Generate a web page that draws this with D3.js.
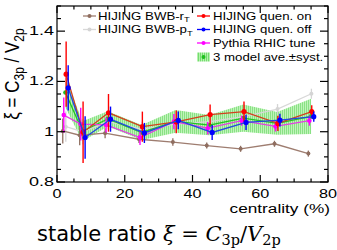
<!DOCTYPE html>
<html><head><meta charset="utf-8">
<script src="https://cdn.jsdelivr.net/npm/d3@7"></script>
<style>body{margin:0;background:#fff}svg{display:block}</style>
</head><body>
<svg id="c" width="337" height="250"></svg>
<script>
const cent = [2.5, 7.5, 15, 25, 35, 45, 55, 65, 75];
const quenOn = [1.229, 0.998, 1.075, 1.020, 1.039, 1.068, 1.080, 1.033, 1.080];
const quenOnErr = [0.13, 0.122, 0.075, 0.06, 0.045, 0.04, 0.04, 0.03, 0.025];
const quenOff = [1.174, 0.977, 1.050, 0.995, 1.045, 0.997, 1.037, 1.046, 1.060];
const quenOffErr = [0.09, 0.085, 0.05, 0.04, 0.035, 0.03, 0.03, 0.025, 0.02];
const pythia = [1.066, 1.030, 1.027, 0.977, 1.040, 1.014, 1.044, 1.021, 1.044];
const pythiaErr = [0.07, 0.065, 0.03, 0.03, 0.03, 0.025, 0.02, 0.02, 0.02];
const bwbRt = [1.003, 0.986, 0.994, 0.970, 0.959, 0.945, 0.932, 0.952, 0.913];
const bwbRtErr = [0.05, 0.04, 0.02, 0.015, 0.015, 0.012, 0.012, 0.012, 0.012];
const bwbPt = [1.02, 1.0, 1.04, 1.01, 1.03, 1.04, 1.06, 1.09, 1.151];
const bwbPtErr = [0.06, 0.05, 0.03, 0.03, 0.03, 0.025, 0.02, 0.02, 0.02];
const ave = [1.156, 1.002, 1.051, 0.997, 1.041, 1.026, 1.054, 1.033, 1.061];
const aveSyst = [0.06, 0.04, 0.03, 0.03, 0.045, 0.04, 0.054, 0.045, 0.07];
const xTicks = [0, 20, 40, 60, 80];
const yTicks = [0.8, 1.0, 1.2, 1.4];
const yTickLabels = ["0.8", "1", "1.2", "1.4"];

const svg = d3.select("#c");
const L = 57, R = 328, T = 6, B = 182;
const x = d3.scaleLinear().domain([0, 80]).range([L, R]);
const y = d3.scaleLinear().domain([0.8, 1.5]).range([B, T]);
const font = "'Liberation Sans', Arial, sans-serif";

const defs = svg.append("defs");
const pat = defs.append("pattern").attr("id", "hatch").attr("patternUnits", "userSpaceOnUse")
  .attr("width", 2).attr("height", 2);
pat.append("rect").attr("width", 2).attr("height", 2).attr("fill", "#b4f2ad");
pat.append("rect").attr("width", 1).attr("height", 2).attr("fill", "#74dc6e");

const plot = svg.append("g");
const area = d3.area().x((d, i) => x(cent[i])).y0((d, i) => y(ave[i] - aveSyst[i])).y1((d, i) => y(ave[i] + aveSyst[i]));
plot.append("path").datum(ave).attr("d", area).attr("fill", "url(#hatch)").attr("opacity", 0.85);

function series(vals, errs, dx, lineCol, markCol, r, sw) {
  const g = plot.append("g");
  const line = d3.line().x((d, i) => x(cent[i] + dx)).y(d => y(d));
  g.append("path").datum(vals).attr("d", line).attr("fill", "none").attr("stroke", lineCol).attr("stroke-width", 1.3);
  if (errs) {
    g.selectAll("line.e").data(vals).enter().append("line")
      .attr("x1", (d, i) => x(cent[i] + dx)).attr("x2", (d, i) => x(cent[i] + dx))
      .attr("y1", (d, i) => y(d - errs[i])).attr("y2", (d, i) => y(d + errs[i]))
      .attr("stroke", markCol).attr("stroke-width", sw);
  }
  g.selectAll("circle").data(vals).enter().append("circle")
    .attr("cx", (d, i) => x(cent[i] + dx)).attr("cy", d => y(d)).attr("r", r).attr("fill", markCol);
}
series(bwbPt, bwbPtErr, 0.1, "#d8d8d8", "#d4d4d4", 2, 1.3);
series(bwbRt, bwbRtErr, -0.8, "#9e7d70", "#8f6e60", 2, 1.3);
series(ave, null, 0, "#22c322", "#1fbf1f", 2.3, 1.3);
series(pythia, pythiaErr, -0.5, "#e23fe2", "#ff00ff", 2.3, 1.4);
series(quenOn, quenOnErr, 0.2, "#d2401e", "#ff0000", 2.6, 1.4);
series(quenOff, quenOffErr, 0.8, "#2448e0", "#0000ff", 2.6, 1.4);

const ax = svg.append("g").attr("stroke", "#000").attr("stroke-width", 1.2);
ax.append("rect").attr("x", L).attr("y", T).attr("width", R - L).attr("height", B - T).attr("fill", "none");
const xMinor = d3.range(0, 81, 5);
xMinor.forEach(v => {
  const major = v % 20 === 0;
  const len = major ? 7 : 3.5;
  ax.append("line").attr("x1", x(v)).attr("x2", x(v)).attr("y1", B).attr("y2", B - len);
  ax.append("line").attr("x1", x(v)).attr("x2", x(v)).attr("y1", T).attr("y2", T + len);
});
const yMinor = d3.range(0.8, 1.5001, 0.05);
yMinor.forEach(v => {
  const major = Math.abs(Math.round(v * 10) / 10 - v) < 1e-6 && Math.round(v * 10) % 2 === 0;
  const len = major ? 8 : 4;
  ax.append("line").attr("x1", L).attr("x2", L + len).attr("y1", y(v)).attr("y2", y(v));
  ax.append("line").attr("x1", R).attr("x2", R - len).attr("y1", y(v)).attr("y2", y(v));
});

function stext(px, py, sx, anchor, size, str) {
  return svg.append("text").attr("transform", `translate(${px},${py}) scale(${sx},1)`)
    .attr("text-anchor", anchor).attr("font-family", font).attr("font-size", size).attr("fill", "#000").text(str);
}
yTicks.forEach((v, i) => stext(54, y(v) + 4, 1.5, "end", 12, yTickLabels[i]));
xTicks.forEach(v => stext(x(v), 198, 1.35, "middle", 12, String(v)));
stext(330, 213, 1.4, "end", 12.3, "centrality (%)");

const yt = svg.append("text").attr("transform", `translate(19,74) scale(1.2,1) rotate(-90)`)
  .attr("text-anchor", "middle").attr("font-family", font).attr("font-size", 17);
yt.append("tspan").text("ξ = C");
yt.append("tspan").attr("font-size", 12).attr("dy", 4).text("3p");
yt.append("tspan").attr("dy", -4).text(" / V");
yt.append("tspan").attr("font-size", 12).attr("dy", 4).text("2p");

const legL = [
  {lab: "HIJING BWB-r", sub: "T", lc: "#9e7d70", mc: "#8f6e60", yy: 16},
  {lab: "HIJING BWB-p", sub: "T", lc: "#d8d8d8", mc: "#d4d4d4", yy: 29.5}
];
const legR = [
  {lab: "HIJING quen. on", lc: "#ff0000", mc: "#ff0000", yy: 16},
  {lab: "HIJING quen. off", lc: "#0000ff", mc: "#0000ff", yy: 29.5},
  {lab: "Pythia RHIC tune", lc: "#ff00ff", mc: "#ff00ff", yy: 43},
  {lab: "3 model ave.±syst.", lc: null, mc: "#1fbf1f", yy: 57}
];
function legItem(d, x0, tx) {
  if (d.lc) {
    svg.append("line").attr("x1", x0).attr("x2", x0 + 13).attr("y1", d.yy).attr("y2", d.yy).attr("stroke", d.lc).attr("stroke-width", 1.3);
  } else {
    svg.append("rect").attr("x", x0).attr("y", d.yy - 4.5).attr("width", 13).attr("height", 9).attr("fill", "url(#hatch)");
  }
  svg.append("circle").attr("cx", x0 + 6.5).attr("cy", d.yy).attr("r", 2).attr("fill", d.mc);
  const t = stext(tx, d.yy + 3.8, 1.25, "start", 10.6, "");
  t.append("tspan").text(d.lab);
  if (d.sub) t.append("tspan").attr("font-size", 7.5).attr("dy", 2.5).text(d.sub);
}
legL.forEach(d => legItem(d, 83, 98));
legR.forEach(d => legItem(d, 197, 213));

const cap = svg.append("text").attr("x", 37).attr("y", 241).attr("font-size", 21).attr("fill", "#000");
cap.append("tspan").attr("font-family", "'DejaVu Sans', sans-serif").text("stable ratio ");
cap.append("tspan").attr("font-family", "'DejaVu Serif', serif").attr("font-style", "italic").text("ξ");
cap.append("tspan").attr("font-family", "'DejaVu Serif', serif").text(" = ");
cap.append("tspan").attr("font-family", "'DejaVu Serif', serif").attr("font-style", "italic").text("C");
cap.append("tspan").attr("font-family", "'DejaVu Serif', serif").attr("font-size", 14.5).attr("dy", 4).text("3p");
cap.append("tspan").attr("font-family", "'DejaVu Serif', serif").attr("dy", -4).text("/");
cap.append("tspan").attr("font-family", "'DejaVu Serif', serif").attr("font-style", "italic").text("V");
cap.append("tspan").attr("font-family", "'DejaVu Serif', serif").attr("font-size", 14.5).attr("dy", 4).text("2p");
</script>
</body></html>
